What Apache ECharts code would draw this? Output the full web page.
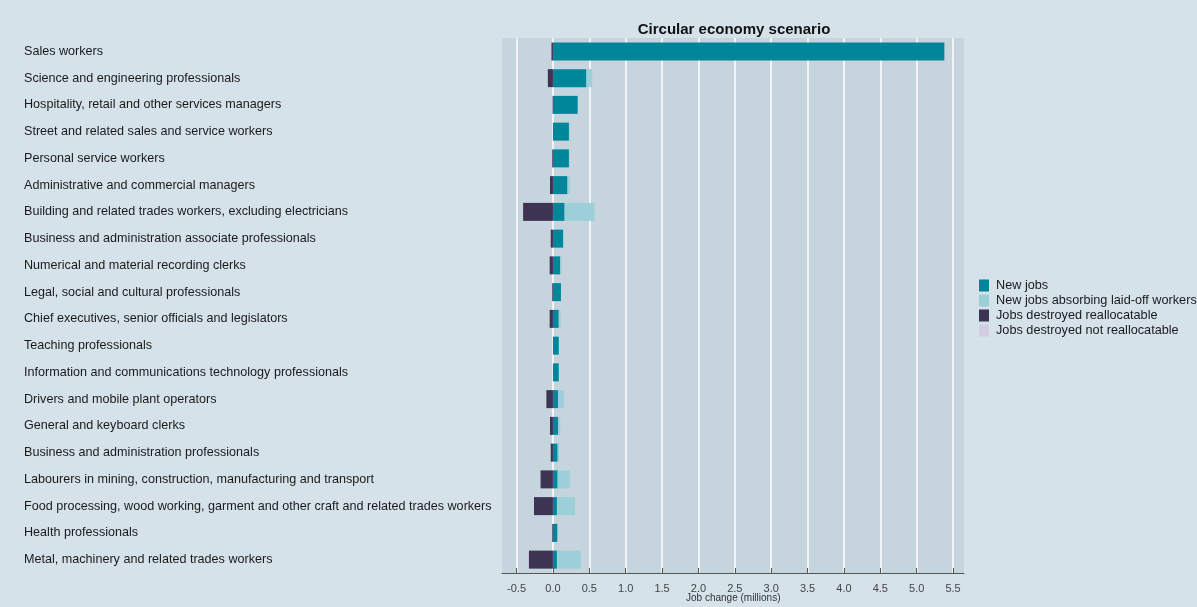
<!DOCTYPE html>
<html>
<head>
<meta charset="utf-8">
<title>Circular economy scenario</title>
<script src="https://cdn.jsdelivr.net/npm/echarts@6/dist/echarts.min.js"></script>
<style>
  html, body { margin: 0; padding: 0; background: #d5e2ea; }
  #chart { width: 1197px; height: 607px; }
</style>
</head>
<body>
<div id="chart"></div>
<script>
// occupations, top to bottom
const categories = [
  'Sales workers',
  'Science and engineering professionals',
  'Hospitality, retail and other services managers',
  'Street and related sales and service workers',
  'Personal service workers',
  'Administrative and commercial managers',
  'Building and related trades workers, excluding electricians',
  'Business and administration associate professionals',
  'Numerical and material recording clerks',
  'Legal, social and cultural professionals',
  'Chief executives, senior officials and legislators',
  'Teaching professionals',
  'Information and communications technology professionals',
  'Drivers and mobile plant operators',
  'General and keyboard clerks',
  'Business and administration professionals',
  'Labourers in mining, construction, manufacturing and transport',
  'Food processing, wood working, garment and other craft and related trades workers',
  'Health professionals',
  'Metal, machinery and related trades workers'
];

// job change, millions
const newJobs = [5.38, 0.46, 0.34, 0.22, 0.22, 0.20, 0.16, 0.14, 0.10, 0.11,
  0.08, 0.08, 0.08, 0.07, 0.07, 0.065, 0.065, 0.055, 0.06, 0.055];
const newJobsAbsorbing = [0, 0.08, 0, 0.01, 0.01, 0.03, 0.41, 0.01, 0.02, 0,
  0.025, 0, 0, 0.08, 0.03, 0.02, 0.165, 0.25, 0, 0.33];
const destroyedReallocatable = [-0.02, -0.07, -0.005, 0, -0.01, -0.04, -0.41, -0.03, -0.045, -0.01,
  -0.045, 0, 0, -0.09, -0.04, -0.03, -0.17, -0.26, -0.01, -0.33];
const destroyedNotReallocatable = [0, 0, 0, 0, 0, 0, 0, 0, 0, 0,
  0, 0, 0, 0, 0, 0, 0, 0, 0, 0];

const tickValues = [-0.5, 0, 0.5, 1, 1.5, 2, 2.5, 3, 3.5, 4, 4.5, 5, 5.5];

const font = 'Liberation Sans, Arial, sans-serif';

function barSeries(name, data, color) {
  return {
    name: name,
    type: 'bar',
    stack: 'total',
    barWidth: 18,
    data: data,
    itemStyle: { color: color },
    emphasis: { disabled: true }
  };
}

const chart = echarts.init(document.getElementById('chart'));
chart.setOption({
  animation: false,
  backgroundColor: '#d5e2ea',
  textStyle: { fontFamily: font },
  title: {
    text: 'Circular economy scenario',
    left: 729,
    top: 17,
    textAlign: 'center',
    textStyle: { fontSize: 15, fontWeight: 'bold', color: '#111', fontFamily: font }
  },
  // axis title sits right under the tick labels, partly overlapping them
  graphic: [{
    type: 'text',
    left: 686,
    top: 593,
    style: { text: 'Job change (millions)', fontSize: 10, fill: '#333', fontFamily: font }
  }],
  legend: {
    orient: 'vertical',
    left: 979,
    top: 279,
    padding: 0,
    itemWidth: 10,
    itemHeight: 12,
    itemGap: 2,
    icon: 'rect',
    selectedMode: false,
    textStyle: { fontSize: 12.7, color: '#1a1a1a', fontFamily: font, padding: [0, 0, 0, 2], lineHeight: 12 },
    data: ['New jobs', 'New jobs absorbing laid-off workers', 'Jobs destroyed reallocatable', 'Jobs destroyed not reallocatable']
  },
  grid: {
    left: 502,
    right: 233,
    top: 38,
    bottom: 34,
    outerBoundsMode: 'none',
    containLabel: false,
    show: true,
    backgroundColor: '#c5d4dd',
    borderWidth: 0
  },
  xAxis: {
    type: 'value',
    min: -0.7,
    max: 5.65,
    axisLine: { show: true, lineStyle: { color: '#555', width: 1 } },
    axisTick: { show: true, inside: true, length: 5, customValues: tickValues, lineStyle: { color: '#555' } },
    axisLabel: {
      customValues: tickValues,
      fontSize: 11,
      color: '#444',
      margin: 10,
      formatter: v => v.toFixed(1)
    },
    splitLine: { show: true, lineStyle: { color: '#ffffff', width: 1.5 } }
  },
  yAxis: {
    type: 'category',
    inverse: true,
    data: categories,
    axisLine: { show: false },
    axisTick: { show: false },
    splitLine: { show: false },
    axisLabel: {
      align: 'left',
      margin: 478,
      fontSize: 12.6,
      color: '#1a1a1a',
      fontFamily: font,
      interval: 0
    }
  },
  series: [
    barSeries('New jobs', newJobs, '#00869b'),
    barSeries('New jobs absorbing laid-off workers', newJobsAbsorbing, '#9dcfd9'),
    barSeries('Jobs destroyed reallocatable', destroyedReallocatable, '#3c3452'),
    barSeries('Jobs destroyed not reallocatable', destroyedNotReallocatable, '#d3cde0')
  ]
});
</script>
</body>
</html>
